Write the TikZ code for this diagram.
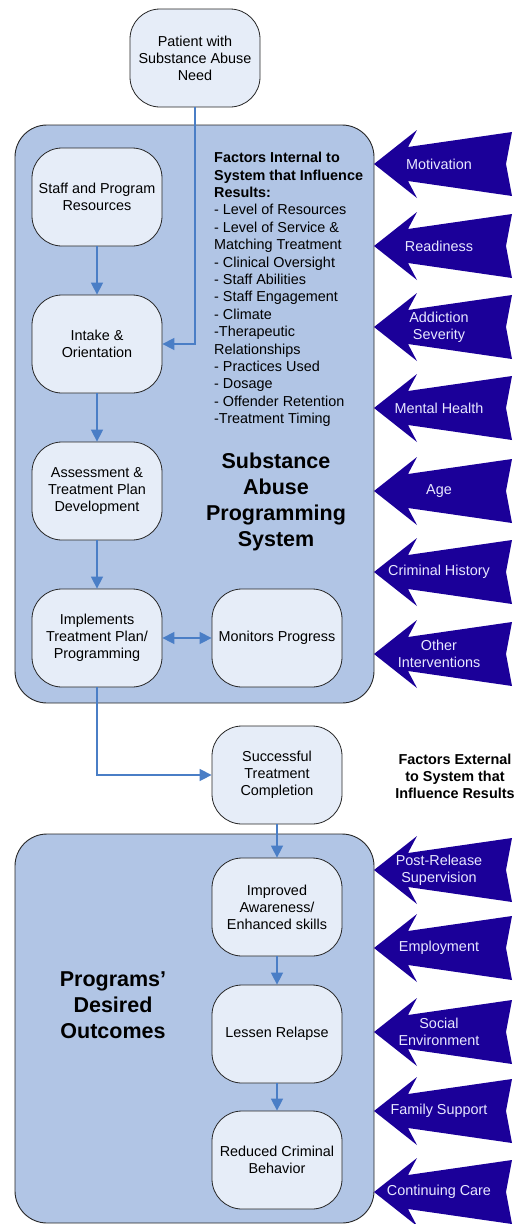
\documentclass[tikz,border=0pt]{standalone}
\usepackage{fontspec}
\setmainfont{Liberation Sans}
\usetikzlibrary{arrows.meta}

\definecolor{boxfill}{HTML}{B1C5E5}
\definecolor{nodefill}{HTML}{E6EDF8}
\definecolor{linkblue}{HTML}{4A7EC6}
\definecolor{factorblue}{HTML}{1B0099}
\definecolor{factortext}{HTML}{E8E8FF}

\begin{document}
\begin{tikzpicture}[x=1pt, y=-1pt, every node/.style={font=\fontsize{14.4}{17}\selectfont}, >={Triangle[length=12pt,width=12pt]},
	stage/.style={draw=black!85, line width=0.8pt, fill=nodefill, rounded corners=30pt, minimum width=130pt, minimum height=98pt, align=center, inner sep=2pt},
	system/.style={draw=black!85, line width=0.9pt, fill=boxfill, rounded corners=32pt},
	conn/.style={linkblue, line width=1.5pt},
	heading/.style={font=\bfseries\fontsize{21.5}{26}\selectfont, align=center}]
	\useasboundingbox (0,0) rectangle (518,1224);
	% the two system boxes
	\draw[system] (15,125) rectangle (374,703);
	\draw[system] (15,834) rectangle (374,1223);
	% stages
	\node[stage] (patient) at (195,58) {Patient with\\Substance Abuse\\Need};
	\node[stage] (staff) at (97,197) {Staff and Program\\Resources};
	\node[stage] (intake) at (97,344) {Intake \&\\Orientation};
	\node[stage] (assess) at (97,491) {Assessment \&\\Treatment Plan\\Development};
	\node[stage] (implement) at (97,638) {Implements\\Treatment Plan/\\Programming};
	\node[stage] (monitor) at (277,638) {Monitors Progress};
	\node[stage] (success) at (277,775) {Successful\\Treatment\\Completion};
	\node[stage] (aware) at (277,907) {Improved\\Awareness/\\Enhanced skills};
	\node[stage] (relapse) at (277,1034) {Lessen Relapse};
	\node[stage] (crime) at (277,1160) {Reduced Criminal\\Behavior};
	% titles and factor lists
	\node[heading] (systitle) at (276,502) {Substance\\Abuse\\Programming\\System};
	\node[heading] (outtitle) at (113,1005) {Programs’\\Desired\\Outcomes};
	\node[anchor=north west, align=left, inner sep=0pt, font=\fontsize{14.4}{17.4}\selectfont] (internal) at (214,152) {\textbf{Factors Internal to}\\\textbf{System that Influence}\\\textbf{Results:}\\- Level of Resources\\- Level of Service \&\\Matching Treatment\\- Clinical Oversight\\- Staff Abilities\\- Staff Engagement\\- Climate\\-Therapeutic\\Relationships\\- Practices Used\\- Dosage\\- Offender Retention\\-Treatment Timing};
	\node[align=center, font=\bfseries\fontsize{14.4}{17}\selectfont] (external) at (455,776) {Factors External\\to System that\\Influence Results};
	% factor arrows
	\foreach \cy/\txt [count=\i] in {164/Motivation, 246/Readiness, 327/{Addiction\\Severity}, 408/Mental Health, 491/Age, 572/Criminal History, 654/{Other\\Interventions}, 870/{Post-Release\\Supervision}, 948/Employment, 1032/{Social\\Environment}, 1111/Family Support, 1192/Continuing Care} {
		\fill[factorblue] (374,\cy) -- (417,\cy-34) -- (408,\cy-17) -- (512,\cy-32) -- (506,\cy) -- (512,\cy+32) -- (408,\cy+17) -- (417,\cy+34) -- cycle;
		\node[factortext, align=center] (factor\i) at (439,\cy) {\txt};
	}
	% connectors
	\draw[conn, ->] (patient.south) |- (intake.east);
	\draw[conn, ->] (staff) -- (intake);
	\draw[conn, ->] (intake) -- (assess);
	\draw[conn, ->] (assess) -- (implement);
	\draw[conn, <->] (implement) -- (monitor);
	\draw[conn, ->] (implement.south) |- (success.west);
	\draw[conn, ->] (success) -- (aware);
	\draw[conn, ->] (aware) -- (relapse);
	\draw[conn, ->] (relapse) -- (crime);
\end{tikzpicture}
\end{document}
